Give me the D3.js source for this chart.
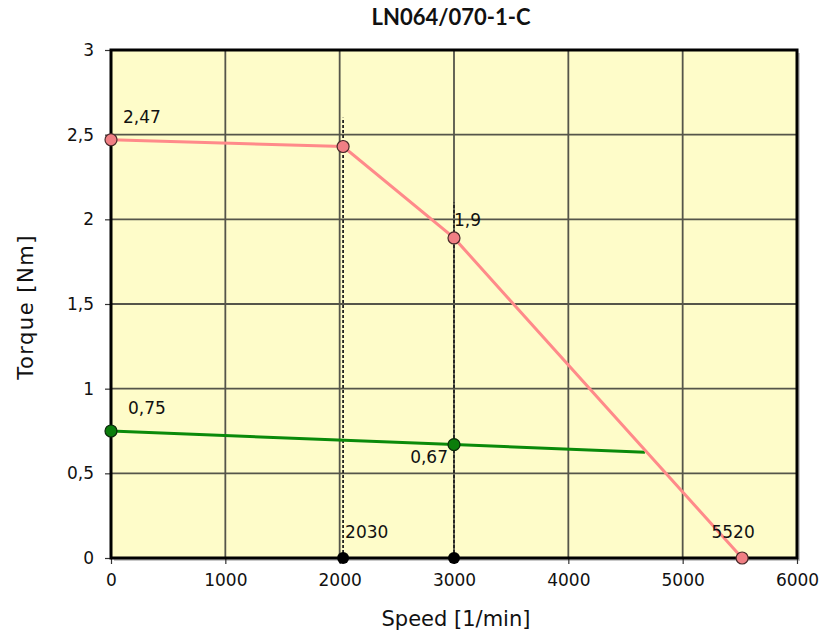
<!DOCTYPE html>
<html><head><meta charset="utf-8">
<script src="https://cdn.jsdelivr.net/npm/d3@7"></script>
<style>body{margin:0;background:#fff}svg{display:block}</style>
</head><body>
<svg id="c" width="822" height="639"></svg>
<script>
const title = "LN064/070-1-C";
const xLabel = "Speed [1/min]";
const yLabel = "Torque [Nm]";
const speedTicks = [0, 1000, 2000, 3000, 4000, 5000, 6000];
const torqueTicks = [0, 0.5, 1, 1.5, 2, 2.5, 3];
const peakSpeed = [0, 2030, 3000, 5520];
const peakTorque = [2.47, 2.43, 1.89, 0];
const contSpeed = [0, 3000, 4670];
const contTorque = [0.75, 0.67, 0.624];
const contMarkerCount = 2;
const refSpeed = [2030, 3000];
const refTop = [2.6, 2.1];
const labelTexts = ["2,47", "1,9", "0,75", "0,67", "2030", "5520"];
const labelSpeed = [0, 3000, 0, 3000, 2030, 5520];
const labelTorque = [2.47, 1.89, 0.75, 0.67, 0, 0];

const W = 822, H = 639;
const m = {left: 111, top: 50, right: 25, bottom: 81};
const FONT = "DejaVu Sans, Verdana, sans-serif";
const svg = d3.select("#c");
const x = d3.scaleLinear().domain([0, 6000]).range([m.left, W - m.right]);
const y = d3.scaleLinear().domain([0, 3]).range([H - m.bottom, m.top]);
const loc = d3.formatLocale({decimal: ",", thousands: "", grouping: [3], currency: ["", ""]});
const fy = loc.format("~g");

// background + shadow
svg.append("rect").attr("x", x(0)+3).attr("y", y(3)+3).attr("width", x(6000)-x(0)).attr("height", y(0)-y(3)).attr("fill", "#c8c8c8");
svg.append("rect").attr("x", x(0)).attr("y", y(3)).attr("width", x(6000)-x(0)).attr("height", y(0)-y(3)).attr("fill", "#fefcc9");

// grid
const grid = svg.append("g");
grid.selectAll(".gx").data(speedTicks.slice(1, -1)).join("line")
  .attr("x1", d => x(d)).attr("x2", d => x(d)).attr("y1", y(0)).attr("y2", y(3))
  .attr("stroke", "#55554a").attr("stroke-width", 1.8);
grid.selectAll(".gy").data(torqueTicks.slice(1, -1)).join("line")
  .attr("y1", d => y(d)).attr("y2", d => y(d)).attr("x1", x(0)).attr("x2", x(6000))
  .attr("stroke", "#55554a").attr("stroke-width", 1.8);

// axes
const ax = svg.append("g").attr("transform", `translate(0,${y(0)})`)
  .call(d3.axisBottom(x).tickValues(speedTicks).tickFormat(d3.format("d")).tickSize(6).tickPadding(10));
const ay = svg.append("g").attr("transform", `translate(${x(0)},0)`)
  .call(d3.axisLeft(y).tickValues(torqueTicks).tickFormat(fy).tickSize(6).tickPadding(11));
[ax, ay].forEach(a => {
  a.select(".domain").remove();
  a.selectAll("line").attr("stroke", "#333").attr("stroke-width", 1.2);
  a.selectAll("text").attr("font-family", FONT).attr("font-size", 17).attr("fill", "#111");
});

// reference dashed lines
svg.selectAll(".ref").data(refSpeed).join("line")
  .attr("x1", d => x(d)).attr("x2", d => x(d)).attr("y1", y(0)).attr("y2", (d, i) => y(refTop[i]))
  .attr("stroke", "#222").attr("stroke-width", 1.8).attr("stroke-dasharray", "3,2");

// continuous line
const line = d3.line().x(d => x(d[0])).y(d => y(d[1]));
const cont = contSpeed.map((s, i) => [s, contTorque[i]]);
svg.append("path").attr("d", line(cont)).attr("fill", "none").attr("stroke", "#0a8a0a").attr("stroke-width", 3);

// peak line
const peak = peakSpeed.map((s, i) => [s, peakTorque[i]]);
svg.append("path").attr("d", line(peak)).attr("fill", "none").attr("stroke", "#ff8a8a").attr("stroke-width", 3);

// frame
svg.append("rect").attr("x", x(0)).attr("y", y(3)).attr("width", x(6000)-x(0)).attr("height", y(0)-y(3))
  .attr("fill", "none").attr("stroke", "#000").attr("stroke-width", 3);

// markers
svg.selectAll(".pm").data(peak).join("circle")
  .attr("cx", d => x(d[0])).attr("cy", d => y(d[1])).attr("r", 6)
  .attr("fill", "#f07f84").attr("stroke", "#4a2a2a").attr("stroke-width", 1.2);
svg.selectAll(".cm").data(cont.slice(0, contMarkerCount)).join("circle")
  .attr("cx", d => x(d[0])).attr("cy", d => y(d[1])).attr("r", 6)
  .attr("fill", "#0b7d0b").attr("stroke", "#0a2a0a").attr("stroke-width", 1.2);
svg.selectAll(".bm").data(refSpeed).join("circle")
  .attr("cx", d => x(d)).attr("cy", y(0)).attr("r", 6)
  .attr("fill", "#000");

// data labels
const offs = [[12, -23, "start"], [0, -18, "start"], [17, -23, "start"], [-6, 12, "end"], [2, -26, "start"], [-9, -26, "middle"]];
svg.selectAll(".lbl").data(labelTexts).join("text")
  .attr("x", (d, i) => x(labelSpeed[i]) + offs[i][0])
  .attr("y", (d, i) => y(labelTorque[i]) + offs[i][1])
  .attr("dy", "0.36em").attr("text-anchor", (d, i) => offs[i][2])
  .attr("font-family", FONT).attr("font-size", 17).attr("fill", "#111")
  .text(d => d);

// titles
svg.append("text").attr("x", 451).attr("y", 17).attr("dy", "0.35em").attr("text-anchor", "middle")
  .attr("font-family", "Lato, sans-serif").attr("font-weight", "bold").attr("font-size", 22).attr("fill", "#111").text(title);
svg.append("text").attr("x", (x(0)+x(6000))/2 + 2).attr("y", 626).attr("text-anchor", "middle")
  .attr("font-family", FONT).attr("font-size", 21).attr("fill", "#111").text(xLabel);
svg.append("text").attr("transform", `translate(26,${(y(0)+y(3))/2 + 3}) rotate(-90)`).attr("dy", "0.35em").attr("text-anchor", "middle")
  .attr("font-family", FONT).attr("font-size", 21).attr("letter-spacing", 1.5).attr("fill", "#111").text(yLabel);
</script>
</body></html>
